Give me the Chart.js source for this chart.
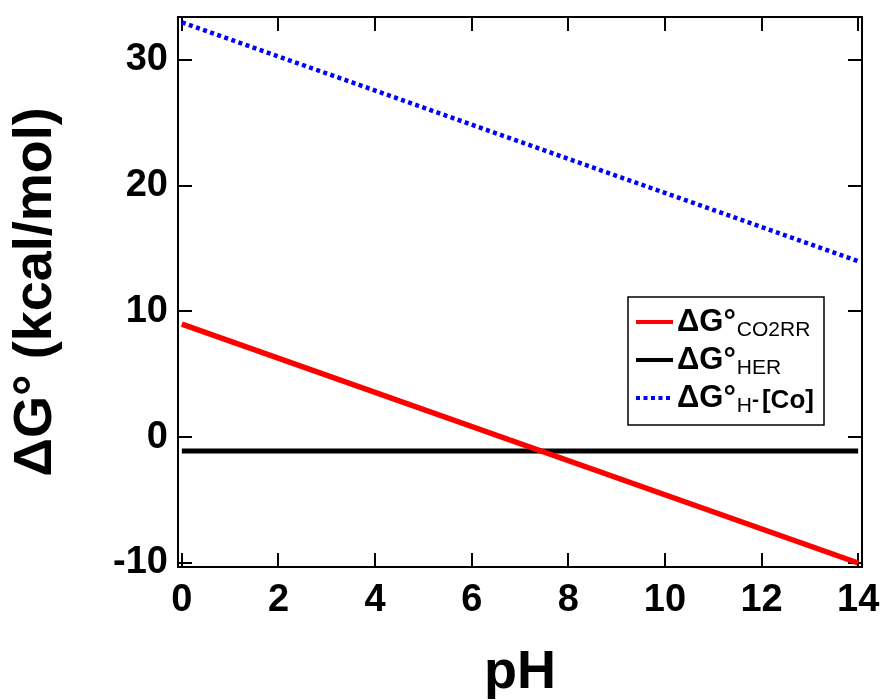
<!DOCTYPE html>
<html>
<head>
<meta charset="utf-8">
<script src="https://cdn.jsdelivr.net/npm/chart.js@4"></script>
<style>
html,body{margin:0;padding:0;background:#fff;}
#wrap{width:885px;height:700px;}
</style>
</head>
<body>
<div id="wrap"><canvas id="c" width="885" height="700"></canvas></div>
<script>
// ---- data ----
const phValues = [0, 14];
const dgCO2RR = [9.0, -10.0];
const dgHER = [-1.1, -1.1];
const dgHCo = [33.0, 14.0];
const seriesMain = ['ΔG°', 'ΔG°', 'ΔG°'];
const seriesSub = ['CO2RR', 'HER', 'H'];
const seriesSup = ['', '', '-'];
const seriesTail = ['', '', '[Co]'];
const xTicks = [0, 2, 4, 6, 8, 10, 12, 14];
const yTicks = [-10, 0, 10, 20, 30];
const xTitle = 'pH';
const yTitle = 'ΔG° (kcal/mol)';

const FONT = '"Liberation Sans", Arial, sans-serif';
const toPts = (ys) => phValues.map((x, i) => ({x: x, y: ys[i]}));

const frameAndTicks = {
  id: 'frameAndTicks',
  beforeDatasetsDraw(chart) {
    const {ctx, chartArea: a, scales: {x, y}} = chart;
    ctx.save();
    ctx.strokeStyle = '#000';
    ctx.lineWidth = 2;
    ctx.strokeRect(a.left, a.top, a.right - a.left, a.bottom - a.top);
    const L = 14;
    ctx.lineWidth = 2;
    ctx.beginPath();
    xTicks.forEach(v => {
      const px = Math.round(x.getPixelForValue(v));
      ctx.moveTo(px, a.bottom); ctx.lineTo(px, a.bottom - L);
      ctx.moveTo(px, a.top); ctx.lineTo(px, a.top + L);
    });
    yTicks.forEach(v => {
      const py = Math.round(y.getPixelForValue(v));
      ctx.moveTo(a.left, py); ctx.lineTo(a.left + L, py);
      ctx.moveTo(a.right, py); ctx.lineTo(a.right - L, py);
    });
    ctx.stroke();
    ctx.restore();
  }
};

const customLegend = {
  id: 'customLegend',
  afterDatasetsDraw(chart) {
    const {ctx} = chart;
    const bx = 628, by = 297, bw = 196, bh = 128;
    ctx.save();
    ctx.fillStyle = '#fff';
    ctx.fillRect(bx, by, bw, bh);
    ctx.strokeStyle = '#000';
    ctx.lineWidth = 1.5;
    ctx.strokeRect(bx, by, bw, bh);
    const rowY = [322, 360, 398];
    chart.data.datasets.forEach((ds, i) => {
      const yy = rowY[i];
      ctx.save();
      ctx.strokeStyle = ds.borderColor;
      ctx.lineWidth = 4;
      ctx.setLineDash(ds.borderDash || []);
      ctx.beginPath();
      ctx.moveTo(636, yy); ctx.lineTo(673, yy);
      ctx.stroke();
      ctx.restore();
      ctx.fillStyle = '#000';
      ctx.textBaseline = 'alphabetic';
      ctx.textAlign = 'left';
      let tx = 677;
      ctx.font = 'bold 31px ' + FONT;
      ctx.fillText(seriesMain[i], tx, yy + 9);
      tx += ctx.measureText(seriesMain[i]).width + 1;
      ctx.font = '21px ' + FONT;
      ctx.fillText(seriesSub[i], tx, yy + 14);
      tx += ctx.measureText(seriesSub[i]).width;
      if (seriesSup[i]) {
        ctx.font = 'bold 21px ' + FONT;
        ctx.fillText(seriesSup[i], tx, yy + 8);
        tx += ctx.measureText(seriesSup[i]).width + 3;
      }
      if (seriesTail[i]) {
        ctx.font = 'bold 26px ' + FONT;
        ctx.fillText(seriesTail[i], tx, yy + 10);
      }
    });
    ctx.restore();
  }
};

new Chart(document.getElementById('c'), {
  type: 'scatter',
  data: {
    datasets: [
      {label: 'ΔG°CO2RR', data: toPts(dgCO2RR), showLine: true, borderColor: '#ff0000', borderWidth: 5.5, pointRadius: 0, fill: false},
      {label: 'ΔG°HER', data: toPts(dgHER), showLine: true, borderColor: '#000000', borderWidth: 5, pointRadius: 0, fill: false},
      {label: 'ΔG°H-[Co]', data: toPts(dgHCo), showLine: true, borderColor: '#0000ff', borderWidth: 4.5, borderDash: [4, 3.5], pointRadius: 0, fill: false}
    ]
  },
  options: {
    responsive: false,
    devicePixelRatio: 1,
    animation: false,
    layout: {padding: {left: 0, top: 17, right: 23, bottom: 0}},
    plugins: {legend: {display: false}, tooltip: {enabled: false}},
    scales: {
      x: {
        type: 'linear', min: -0.08, max: 14.08,
        afterFit(s) { s.height = 133; s.paddingLeft = 0; s.paddingRight = 0; },
        ticks: {stepSize: 2, includeBounds: false, padding: 11, color: '#000', font: {family: FONT, size: 38, weight: 'bold'}, maxRotation: 0},
        grid: {display: false, drawTicks: false},
        border: {display: false},
        title: {display: true, text: xTitle, color: '#000', font: {family: FONT, size: 54, weight: 'bold', lineHeight: 1}, padding: {top: 0, bottom: 0}}
      },
      y: {
        type: 'linear', min: -10.32, max: 33.42,
        afterFit(s) { s.width = 178; s.paddingTop = 0; s.paddingBottom = 0; },
        ticks: {stepSize: 10, includeBounds: false, padding: 10, color: '#000', font: {family: FONT, size: 38, weight: 'bold'}},
        grid: {display: false, drawTicks: false},
        border: {display: false},
        title: {display: true, text: yTitle, color: '#000', font: {family: FONT, size: 54, weight: 'bold', lineHeight: 1}, padding: {top: 9, bottom: 0}}
      }
    }
  },
  plugins: [frameAndTicks, customLegend]
});
</script>
</body>
</html>
